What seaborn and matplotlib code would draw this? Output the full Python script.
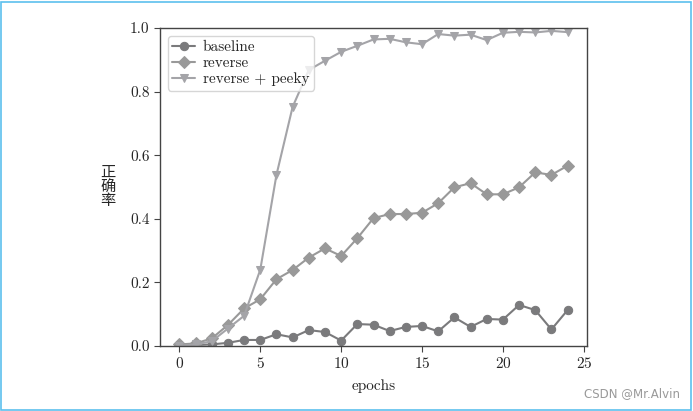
import matplotlib
matplotlib.use("Agg")
import matplotlib.pyplot as plt
import seaborn as sns
import numpy as np
import pandas as pd
from matplotlib.patches import Rectangle

epochs = list(range(25))
baseline = [0.003, 0.003, 0.005, 0.010, 0.019, 0.019, 0.037, 0.027, 0.050, 0.044,
            0.017, 0.069, 0.067, 0.047, 0.060, 0.063, 0.046, 0.090, 0.060, 0.085,
            0.083, 0.129, 0.113, 0.052, 0.113]
reverse = [0.005, 0.008, 0.024, 0.066, 0.118, 0.147, 0.210, 0.239, 0.278, 0.307,
           0.283, 0.339, 0.402, 0.415, 0.415, 0.419, 0.449, 0.499, 0.512, 0.477,
           0.477, 0.499, 0.546, 0.538, 0.567]
peeky = [0.000, 0.005, 0.015, 0.055, 0.095, 0.240, 0.538, 0.752, 0.868, 0.897,
         0.925, 0.944, 0.964, 0.966, 0.955, 0.949, 0.981, 0.976, 0.979, 0.962,
         0.985, 0.988, 0.986, 0.991, 0.987]
labels = ["baseline", "reverse", "reverse + peeky"]

sns.set_style("ticks")
plt.rcParams['font.family'] = ['cmr10', 'Noto Sans CJK SC', 'DejaVu Sans']
plt.rcParams['axes.formatter.use_mathtext'] = True
plt.rcParams['mathtext.fontset'] = 'cm'

fig = plt.figure(figsize=(6.93, 4.11), dpi=100)
ax = fig.add_axes([160/693, 1-346/411, (587-160)/693, (346-28)/411])

series = [(baseline, "o", "#7a7a7c"), (reverse, "D", "#999999"), (peeky, "v", "#a4a4a8")]
for (vals, mk, col), lab in zip(series, labels):
    sns.lineplot(x=epochs, y=vals, ax=ax, color=col, marker=mk, markersize=6,
                 markeredgecolor=col, linewidth=1.5, label=lab)

ax.set_ylim(0, 1.0)
ax.set_xlim(-1.2, 25.2)
ax.set_xticks([0, 5, 10, 15, 20, 25])
ax.set_yticks([0.0, 0.2, 0.4, 0.6, 0.8, 1.0])
ax.set_yticklabels(["0.0", "0.2", "0.4", "0.6", "0.8", "1.0"])
ax.tick_params(labelsize=11, direction="out", length=4, color="#444444")
for s in ax.spines.values():
    s.set_color("#444444")
    s.set_linewidth(1.0)
ax.set_xlabel("epochs", fontsize=11, labelpad=6)
ax.set_ylabel("正\n确\n率", rotation=0, fontsize=11, linespacing=1.0,
              labelpad=16, va="center")
leg = ax.legend(loc="upper left", fontsize=11, frameon=True, borderpad=0.3,
                handlelength=1.5, handletextpad=0.5, labelspacing=0.15,
                borderaxespad=0.5)
leg.get_frame().set_edgecolor("#cccccc")

fig.patches.append(Rectangle((1/693, 1/411), 690/693, 408/411, transform=fig.transFigure,
                             fill=False, edgecolor="#5cc0ee", linewidth=1.2))
fig.text(680/693, 1-394/411, "CSDN @Mr.Alvin", ha="right", va="center",
         fontsize=8.5, color="#999999", family="DejaVu Sans")

fig.savefig("out.png", dpi=100)
